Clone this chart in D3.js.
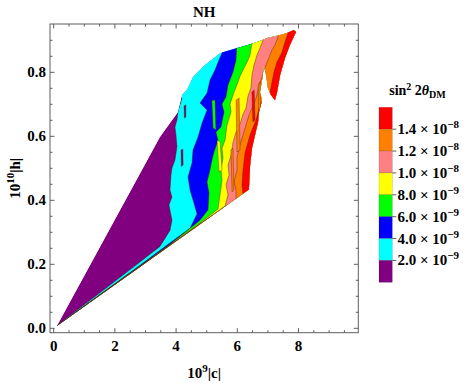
<!DOCTYPE html>
<html><head><meta charset="utf-8">
<script src="https://cdn.jsdelivr.net/npm/d3@7"></script>
<style>body{margin:0;background:#fff}svg{display:block}</style>
</head><body><svg id="c" width="469" height="383"></svg>
<script>
// ---- data ----
const levels = [2.0e-9, 4.0e-9, 6.0e-9, 8.0e-9, 1.0e-8, 1.2e-8, 1.4e-8];
const levelMantissa = ["2.0", "4.0", "6.0", "8.0", "1.0", "1.2", "1.4"];
const levelExponent = ["−9", "−9", "−9", "−9", "−8", "−8", "−8"];
const bandColors = ["#800080", "#00ffff", "#0000ff", "#00ff00", "#ffff00", "#ff8080", "#ff8000", "#ff0000"];
const xTicks = [0, 2, 4, 6, 8];
const xTickLabels = ["0", "2", "4", "6", "8"];
const yTicks = [0.0, 0.2, 0.4, 0.6, 0.8];
const yTickLabels = ["0.0", "0.2", "0.4", "0.6", "0.8"];
const xDomain = [-0.121, 9.954];
const yDomain = [-0.01375, 0.951];

// outline of the sampled region (10^9|c|, 10^10|h|)
const regionOutline = [
  [0.10, 0.007], [3.47, 0.598], [4.06, 0.676], [4.19, 0.729], [4.35, 0.745],
  [4.55, 0.785], [4.94, 0.823], [5.44, 0.860], [5.99, 0.876], [6.42, 0.888], [6.74, 0.898],
  [6.97, 0.907], [7.40, 0.917], [7.62, 0.923], [7.85, 0.932], [7.92, 0.926], [7.72, 0.885],
  [7.56, 0.845], [7.40, 0.792], [7.30, 0.738], [7.23, 0.713], [7.10, 0.729], [7.00, 0.751],
  [6.94, 0.792], [6.87, 0.820], [6.81, 0.776], [6.74, 0.738], [6.81, 0.713], [6.71, 0.676],
  [6.68, 0.645], [6.58, 0.604], [6.48, 0.563], [6.42, 0.510], [6.38, 0.434]
];

// contour lines (lower-left tip -> top edge)
const contour2e9 = [[0.108,0.009],[1.513,0.111],[2.820,0.207],[3.474,0.256],[3.801,0.306],[3.866,0.338],[3.768,0.385],[3.866,0.410],[3.801,0.432],[3.834,0.479],[3.866,0.501],[3.964,0.526],[4.029,0.567],[3.997,0.604],[3.964,0.629],[4.029,0.651],[4.062,0.676],[4.193,0.720]];
const contour4e9 = [[0.108,0.008],[1.513,0.106],[2.820,0.197],[3.801,0.267],[4.454,0.313],[4.683,0.357],[4.552,0.401],[4.454,0.432],[4.389,0.473],[4.520,0.517],[4.552,0.557],[4.716,0.598],[4.846,0.641],[5.010,0.682],[4.781,0.704],[5.010,0.735],[5.108,0.776],[5.271,0.807],[5.402,0.839],[5.500,0.860],[5.533,0.901]];
const contour6e9 = [[0.108,0.0075],[1.513,0.105],[2.820,0.195],[3.801,0.263],[4.781,0.338],[5.042,0.370],[5.075,0.423],[5.010,0.457],[5.108,0.495],[5.173,0.526],[5.239,0.551],[5.369,0.588],[5.304,0.613],[5.467,0.629],[5.565,0.676],[5.500,0.701],[5.631,0.723],[5.696,0.760],[5.860,0.801],[5.958,0.838],[5.990,0.901]];
const contour8e9 = [[0.108,0.0072],[1.513,0.104],[2.820,0.193],[3.801,0.261],[4.781,0.329],[5.369,0.373],[5.435,0.417],[5.500,0.464],[5.467,0.495],[5.533,0.532],[5.500,0.563],[5.598,0.588],[5.663,0.635],[5.794,0.676],[5.761,0.701],[5.892,0.738],[6.023,0.770],[6.088,0.788],[6.219,0.813],[6.349,0.838],[6.415,0.854],[6.480,0.892],[6.513,0.917]];
const contour10e9 = [[0.108,0.0069],[1.513,0.1034],[2.820,0.1925],[3.801,0.260],[4.781,0.327],[5.598,0.382],[5.696,0.417],[5.631,0.448],[5.729,0.479],[5.696,0.510],[5.794,0.541],[5.860,0.582],[5.958,0.613],[6.088,0.638],[6.186,0.669],[6.284,0.688],[6.349,0.726],[6.447,0.751],[6.480,0.792],[6.546,0.823],[6.644,0.854],[6.742,0.876],[6.840,0.901],[6.873,0.926]];
const contour12e9 = [[0.108,0.0066],[1.513,0.1031],[2.820,0.1922],[3.801,0.2594],[4.781,0.3259],[5.958,0.401],[5.958,0.432],[5.892,0.457],[5.990,0.495],[5.990,0.532],[6.088,0.573],[6.186,0.604],[6.284,0.635],[6.382,0.666],[6.480,0.688],[6.611,0.719],[6.676,0.745],[6.774,0.776],[6.873,0.807],[7.003,0.838],[7.134,0.870],[7.232,0.885],[7.330,0.910],[7.363,0.938]];
const contour14e9 = [[0.108,0.0063],[1.513,0.1030],[2.820,0.1920],[3.801,0.2591],[4.781,0.3253],[6.186,0.4197],[6.154,0.448],[6.186,0.495],[6.252,0.548],[6.415,0.604],[6.611,0.651],[6.742,0.698],[6.905,0.726],[7.069,0.738],[7.134,0.770],[7.199,0.801],[7.297,0.832],[7.461,0.863],[7.559,0.895],[7.657,0.923],[7.690,0.948]];
const contours = [contour2e9, contour4e9, contour6e9, contour8e9, contour10e9, contour12e9, contour14e9];

// small closed patches inside the bands: [band index, outline]
const patchBands = [0, 0, 4, 3, 6, 6, 7, 6];
const patchOutlines = [
  [[4.26,0.695],[4.32,0.699],[4.32,0.660],[4.27,0.657]],
  [[4.16,0.557],[4.22,0.560],[4.23,0.510],[4.17,0.506]],
  [[5.34,0.588],[5.44,0.582],[5.50,0.495],[5.40,0.489]],
  [[5.17,0.713],[5.27,0.713],[5.30,0.620],[5.21,0.626]],
  [[5.96,0.713],[6.06,0.720],[6.09,0.557],[5.99,0.551]],
  [[5.79,0.557],[5.86,0.563],[5.89,0.432],[5.83,0.426]],
  [[6.48,0.738],[6.55,0.745],[6.58,0.651],[6.51,0.645]],
  [[6.68,0.760],[6.74,0.770],[6.76,0.690],[6.70,0.680]]
];

// ---- drawing ----
const svg = d3.select("#c");
const FONT = "'Liberation Serif', 'Times New Roman', serif";
const X0 = 50, X1 = 358.3, Y0 = 332.7, Y1 = 24;
const x = d3.scaleLinear().domain(xDomain).range([X0, X1]);
const y = d3.scaleLinear().domain(yDomain).range([Y0, Y1]);
const line = d3.line().x(d => x(d[0])).y(d => y(d[1]));
const edge = "rgba(70,30,0,0.45)";

svg.append("defs").append("clipPath").attr("id", "reg")
  .append("path").attr("d", line(regionOutline) + "Z");
const plot = svg.append("g").attr("clip-path", "url(#reg)");
plot.append("path").attr("d", line(regionOutline) + "Z").attr("fill", bandColors[0]);
contours.forEach((c, i) => {
  const f = c[0], l = c[c.length - 1];
  const poly = c.concat([[l[0], 1.2], [10.5, 1.2], [10.5, -0.1], [f[0], -0.1]]);
  plot.append("path").attr("d", line(poly) + "Z").attr("fill", bandColors[i + 1]);
});
contours.forEach(c => {
  plot.append("path").attr("d", line(c)).attr("fill", "none")
    .attr("stroke", edge).attr("stroke-width", 0.9);
});
patchOutlines.forEach((p, i) => {
  plot.append("path").attr("d", line(p) + "Z").attr("fill", bandColors[patchBands[i]])
    .attr("stroke", edge).attr("stroke-width", 0.8);
});

// frame + ticks
const axisColor = "#5e5e5e";
svg.append("rect").attr("x", X0).attr("y", Y1).attr("width", X1 - X0).attr("height", Y0 - Y1)
  .attr("fill", "none").attr("stroke", axisColor).attr("stroke-width", 1);
const tk = svg.append("g").attr("stroke", axisColor).attr("stroke-width", 1);
const xMinor = d3.range(0, 9.9, 0.5);
const yMinor = d3.range(0, 0.95, 0.05);
xMinor.forEach(v => {
  const major = xTicks.some(t => Math.abs(t - v) < 1e-6);
  const L = major ? 4.5 : 2.5;
  tk.append("line").attr("x1", x(v)).attr("x2", x(v)).attr("y1", Y0).attr("y2", Y0 - L);
  tk.append("line").attr("x1", x(v)).attr("x2", x(v)).attr("y1", Y1).attr("y2", Y1 + L);
});
yMinor.forEach(v => {
  const major = yTicks.some(t => Math.abs(t - v) < 1e-6);
  const L = major ? 4.5 : 2.5;
  tk.append("line").attr("y1", y(v)).attr("y2", y(v)).attr("x1", X0).attr("x2", X0 + L);
  tk.append("line").attr("y1", y(v)).attr("y2", y(v)).attr("x1", X1).attr("x2", X1 - L);
});

const txt = svg.append("g").attr("font-family", FONT).attr("font-weight", "bold").attr("fill", "#000");
xTicks.forEach((v, i) => txt.append("text").attr("x", x(v)).attr("y", 350.5)
  .attr("text-anchor", "middle").attr("font-size", 15).text(xTickLabels[i]));
yTicks.forEach((v, i) => txt.append("text").attr("x", 46).attr("y", y(v) + 4.8)
  .attr("text-anchor", "end").attr("font-size", 15).text(yTickLabels[i]));

// title
txt.append("text").attr("x", (X0 + X1) / 2).attr("y", 17).attr("text-anchor", "middle")
  .attr("font-size", 15).text("NH");

// x-axis title
const xt = txt.append("text").attr("x", (X0 + X1) / 2).attr("y", 378).attr("text-anchor", "middle").attr("font-size", 15);
xt.append("tspan").text("10");
xt.append("tspan").attr("dy", -6).attr("font-size", 11).text("9");
xt.append("tspan").attr("dy", 6).text("|c|");

// y-axis title
const yt = txt.append("text").attr("transform", `translate(20,${(Y0 + Y1) / 2}) rotate(-90)`)
  .attr("text-anchor", "middle").attr("font-size", 15);
yt.append("tspan").text("10");
yt.append("tspan").attr("dy", -6).attr("font-size", 11).text("10");
yt.append("tspan").attr("dy", 6).text("|h|");

// legend
const LX = 379, LW = 13.3, LTop = 107.3, LBot = 282.3;
const bandH = (LBot - LTop) / bandColors.length;
const lg = svg.append("g");
bandColors.slice().reverse().forEach((c, i) => {
  lg.append("rect").attr("x", LX).attr("y", LTop + i * bandH).attr("width", LW).attr("height", bandH)
    .attr("fill", c).attr("stroke", "rgba(0,0,0,0.25)").attr("stroke-width", 0.5);
});
levels.forEach((lv, i) => {
  const yy = LBot - (i + 1) * bandH;
  lg.append("line").attr("x1", LX + LW).attr("x2", LX + LW + 4).attr("y1", yy).attr("y2", yy)
    .attr("stroke", axisColor).attr("stroke-width", 1);
  const t = lg.append("text").attr("x", 397.5).attr("y", yy + 5).attr("font-family", FONT)
    .attr("font-weight", "bold").attr("font-size", 15);
  t.append("tspan").text(levelMantissa[i] + " × 10");
  t.append("tspan").attr("dy", -6).attr("font-size", 11).text(levelExponent[i]);
});
const lt = lg.append("text").attr("x", 417.5).attr("y", 95).attr("text-anchor", "middle")
  .attr("font-family", FONT).attr("font-weight", "bold").attr("font-size", 14);
lt.append("tspan").text("sin");
lt.append("tspan").attr("dy", -5).attr("font-size", 10).text("2");
lt.append("tspan").attr("dy", 5).text(" 2");
lt.append("tspan").attr("font-style", "italic").text("θ");
lt.append("tspan").attr("dy", 3).attr("font-size", 10).text("DM");
</script>
</body></html>
